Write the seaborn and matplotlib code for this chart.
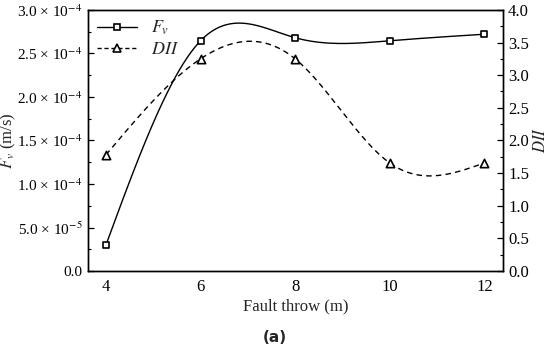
import numpy as np
import pandas as pd
import seaborn as sns
import matplotlib.pyplot as plt
from matplotlib.lines import Line2D
from matplotlib.ticker import MultipleLocator

# data
fault_throw = [4, 6, 8, 10, 12]
fv = [3.0e-5, 2.645e-4, 2.68e-4, 2.645e-4, 2.72e-4]
dii = [1.78, 3.25, 3.25, 1.655, 1.655]

fv_ticks = [0.0, 5.0e-5, 1.0e-4, 1.5e-4, 2.0e-4, 2.5e-4, 3.0e-4]
fv_tick_labels = ["0.0", "5.0 × 10$^{-5}$", "1.0 × 10$^{-4}$", "1.5 × 10$^{-4}$",
                  "2.0 × 10$^{-4}$", "2.5 × 10$^{-4}$", "3.0 × 10$^{-4}$"]
dii_ticks = [0.0, 0.5, 1.0, 1.5, 2.0, 2.5, 3.0, 3.5, 4.0]


def natural_spline(x, y, n=300):
  # natural cubic spline through the points, only used to draw the smooth line
  x = np.asarray(x, float)
  y = np.asarray(y, float)
  k = len(x)
  h = np.diff(x)
  A = np.zeros((k, k))
  b = np.zeros(k)
  A[0, 0] = A[-1, -1] = 1
  for i in range(1, k - 1):
    A[i, i - 1] = h[i - 1]
    A[i, i] = 2 * (h[i - 1] + h[i])
    A[i, i + 1] = h[i]
    b[i] = 6 * ((y[i + 1] - y[i]) / h[i] - (y[i] - y[i - 1]) / h[i - 1])
  m = np.linalg.solve(A, b)
  xs = np.linspace(x[0], x[-1], n)
  idx = np.clip(np.searchsorted(x, xs) - 1, 0, k - 2)
  x0, x1 = x[idx], x[idx + 1]
  hh = x1 - x0
  t0, t1 = x1 - xs, xs - x0
  ys = (m[idx] * t0**3 + m[idx + 1] * t1**3) / (6 * hh) \
    + (y[idx] / hh - m[idx] * hh / 6) * t0 + (y[idx + 1] / hh - m[idx + 1] * hh / 6) * t1
  return xs, ys


sns.set_style("white")
plt.rcParams["font.family"] = ["Liberation Serif", "DejaVu Serif"]
plt.rcParams["mathtext.fontset"] = "stix"
plt.rcParams["font.size"] = 11

df = pd.DataFrame({"x": fault_throw, "fv": fv, "dii": dii})
xs, fv_s = natural_spline(fault_throw, fv)
_, dii_s = natural_spline(fault_throw, dii)
smooth = pd.DataFrame({"x": xs, "fv": fv_s, "dii": dii_s})

fig = plt.figure(figsize=(5.5, 3.52), dpi=100)
ax = fig.add_axes([0.16, 0.23, 0.755, 0.742])
ax2 = ax.twinx()

sns.lineplot(data=smooth, x="x", y="fv", ax=ax, color="black", lw=1.0)
sns.scatterplot(data=df, x="x", y="fv", ax=ax, marker="s", s=24, facecolor="white",
                edgecolor="black", linewidth=1.2, zorder=3)
sns.lineplot(data=smooth, x="x", y="dii", ax=ax2, color="black", lw=1.0, linestyle=(0, (4, 3)))
sns.scatterplot(data=df, x="x", y="dii", ax=ax2, marker="^", s=36, facecolor="white",
                edgecolor="black", linewidth=1.2, zorder=3)

ax.set_xlim(3.62, 12.4)
ax.set_ylim(0, 3.0e-4)
ax2.set_ylim(0, 4.0)
ax.set_xticks(fault_throw)
ax.xaxis.set_minor_locator(MultipleLocator(1))
ax.set_yticks(fv_ticks)
ax.set_yticklabels(fv_tick_labels)
ax.yaxis.set_minor_locator(MultipleLocator(2.5e-5))
ax2.set_yticks(dii_ticks)
ax2.yaxis.set_minor_locator(MultipleLocator(0.25))

ax.set_xlabel("Fault throw (m)", fontsize=12, labelpad=2)
ax.set_ylabel(r"$F_v$ (m/s)", fontsize=12)
ax.yaxis.set_label_coords(-0.168, 0.5)
ax2.set_ylabel(r"$DII$", fontsize=12, labelpad=3)

for a in (ax, ax2):
  for s in a.spines.values():
    s.set_linewidth(1.0)
    s.set_color("black")
ax.tick_params(which="both", direction="in", colors="black")
ax.tick_params(axis="y", labelsize=11, pad=4)
ax.tick_params(axis="x", labelsize=12, pad=6)
ax.tick_params(which="major", length=4, width=0.9)
ax.tick_params(which="minor", length=2, width=0.8)
ax2.tick_params(which="both", direction="in", colors="black", labelsize=12)
ax2.tick_params(which="major", length=4, width=0.9)
ax2.tick_params(which="minor", length=2, width=0.8)

handles = [
  Line2D([], [], color="black", lw=1.0, marker="s", ms=5, mfc="white", mec="black", mew=1.2),
  Line2D([], [], color="black", lw=1.0, ls=(0, (3, 2)), marker="^", ms=6, mfc="white", mec="black", mew=1.2),
]
ax.legend(handles, [r"$F_v$", r"$DII$"], loc="upper left", frameon=False, fontsize=13,
          handlelength=2.2, borderaxespad=0.1, labelspacing=0.2)

fig.text(0.5, 0.04, "(a)", ha="center", va="center", fontsize=11, fontweight="bold",
         family="DejaVu Sans")

fig.savefig("out.png", dpi=100)
